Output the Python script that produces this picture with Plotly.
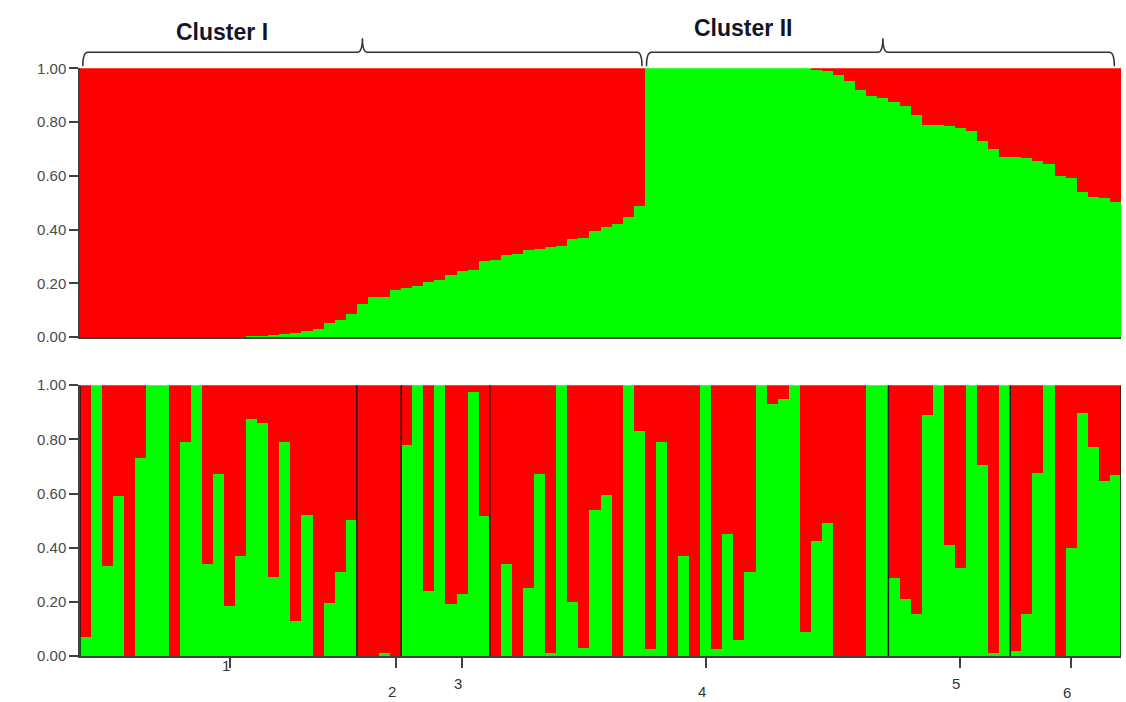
import plotly.graph_objects as go

W, H = 1126, 702

# ---------------- data ----------------
# Top panel: membership in the "green" cluster, individuals sorted
cluster_labels = ["Cluster I", "Cluster II"]
cluster1_green = [0.0, 0.0, 0.0, 0.0, 0.0, 0.0, 0.0, 0.0, 0.0, 0.0, 0.0, 0.0, 0.0, 0.0, 0.0,
                  0.004, 0.005, 0.007, 0.010, 0.013, 0.022, 0.031, 0.052, 0.064, 0.084,
                  0.124, 0.148, 0.150, 0.174, 0.183, 0.190, 0.205, 0.210, 0.229, 0.245,
                  0.250, 0.283, 0.287, 0.305, 0.310, 0.323, 0.327, 0.335, 0.338, 0.364,
                  0.368, 0.394, 0.409, 0.420, 0.446, 0.486]
cluster2_green = [1.0, 1.0, 1.0, 1.0, 1.0, 1.0, 1.0, 1.0, 1.0, 1.0, 1.0, 1.0, 1.0, 1.0, 1.0,
                  0.996, 0.990, 0.975, 0.950, 0.920, 0.895, 0.890, 0.874, 0.857, 0.827,
                  0.789, 0.787, 0.785, 0.776, 0.765, 0.730, 0.700, 0.670, 0.668, 0.665,
                  0.655, 0.643, 0.600, 0.590, 0.540, 0.520, 0.515, 0.502]

# Bottom panel: individuals grouped by population
pop_labels = ["1", "2", "3", "4", "5", "6"]
pop1_green = [0.07, 1.0, 0.33, 0.59, 0.0, 0.73, 1.0, 1.0, 0.0, 0.79, 1.0, 0.34, 0.67,
              0.185, 0.37, 0.873, 0.86, 0.29, 0.79, 0.13, 0.52, 0.0, 0.196, 0.31, 0.50]
pop2_green = [0.0, 0.0, 0.01, 0.0]
pop3_green = [0.777, 1.0, 0.24, 1.0, 0.19, 0.23, 0.975, 0.517]
pop4_green = [0.0, 0.34, 0.0, 0.25, 0.67, 0.01, 1.0, 0.20, 0.03, 0.54, 0.595, 0.0,
              1.0, 0.83, 0.025, 0.79, 0.0, 0.37, 0.0, 1.0, 0.025, 0.45, 0.06, 0.31,
              1.0, 0.93, 0.95, 1.0, 0.09, 0.425, 0.49, 0.0, 0.0, 0.0, 1.0, 1.0]
pop5_green = [0.286, 0.21, 0.154, 0.89, 1.0, 0.41, 0.326, 1.0, 0.706, 0.012, 1.0]
pop6_green = [0.017, 0.154, 0.674, 1.0, 0.0, 0.40, 0.895, 0.77, 0.647, 0.667]
pop_tick_index = [13, 28, 34, 56, 79, 89]

y_tick_vals = [0.0, 0.2, 0.4, 0.6, 0.8, 1.0]
y_tick_text = ["0.00", "0.20", "0.40", "0.60", "0.80", "1.00"]

GREEN = "#00FF00"
RED = "#FF0000"
AXC = "#404040"

# ---------------- build ----------------
top_green = cluster1_green + cluster2_green
top_x = list(range(len(top_green)))
pops = [pop1_green, pop2_green, pop3_green, pop4_green, pop5_green, pop6_green]
bot_green = [v for p in pops for v in p]
bot_x = list(range(len(bot_green)))
n = len(top_green)

# screen-pixel -> paper helpers (vertical calibrated to the rendering page)
VOFF, VSC = 8.62, 0.9762

def px_x(p):
    return p / W

def px_y(p):
    q = (p - VOFF) / VSC
    return 1 - q / H

xdom = [px_x(80), px_x(1121)]
top_dom = [px_y(337), px_y(68)]
bot_dom = [px_y(656), px_y(385)]

fig = go.Figure()
for xs, g, xa, ya in [(top_x, top_green, "x", "y"), (bot_x, bot_green, "x2", "y2")]:
    fig.add_trace(go.Bar(x=xs, y=g, marker=dict(color=GREEN, line=dict(width=0)),
                         xaxis=xa, yaxis=ya, showlegend=False, hoverinfo="skip"))
    fig.add_trace(go.Bar(x=xs, y=[1 - v for v in g], marker=dict(color=RED, line=dict(width=0)),
                         xaxis=xa, yaxis=ya, showlegend=False, hoverinfo="skip"))

yax = dict(range=[0, 1], tickvals=y_tick_vals, ticktext=y_tick_text, ticks="outside",
           ticklen=9, tickwidth=1.5, tickcolor=AXC, showline=True, linecolor=AXC,
           linewidth=1.5, showgrid=False, zeroline=False,
           tickfont=dict(family="Liberation Sans, Arial", size=15, color="#4a4a4a"))
fig.update_layout(
    width=W, height=H, margin=dict(l=0, r=0, t=0, b=0),
    paper_bgcolor="white", plot_bgcolor="white",
    barmode="stack", bargap=0,
    xaxis=dict(domain=xdom, range=[-0.5, n - 0.5], showticklabels=False, ticks="",
               showline=True, linecolor=AXC, linewidth=1.5, showgrid=False, zeroline=False,
               anchor="y"),
    yaxis=dict(domain=top_dom, anchor="x", **yax),
    xaxis2=dict(domain=xdom, range=[-0.5, n - 0.5], tickvals=pop_tick_index,
                ticktext=["" for _ in pop_tick_index], ticks="outside", ticklen=10,
                tickwidth=1.5, tickcolor=AXC, showline=True, linecolor=AXC, linewidth=1.5,
                showgrid=False, zeroline=False, anchor="y2"),
    yaxis2=dict(domain=bot_dom, anchor="x2", **yax),
)

# population divider lines
shapes = []
edge = -0.5
bounds = [edge]
for p in pops:
    edge += len(p)
    bounds.append(edge)
for b in bounds:
    shapes.append(dict(type="line", xref="x2", yref="y2", x0=b, x1=b, y0=0, y1=1,
                       line=dict(color="#1a1a1a", width=1.5)))

# cluster brackets
yh = px_y(52)
ye = px_y(66)
yp = px_y(38)
c_start = -0.5
sizes = [len(cluster1_green), len(cluster2_green)]
for i, s in enumerate(sizes):
    x0 = c_start + (0.25 if i == 0 else 0.15)
    x1 = c_start + s - (0.25 if i == 0 else 0.6)
    xc = c_start + s / 2
    d = 0.45
    path = (f"M {x0},{ye} Q {x0},{yh} {x0 + d},{yh} L {xc - d},{yh} "
            f"Q {xc},{yh} {xc},{yp} Q {xc},{yh} {xc + d},{yh} L {x1 - d},{yh} "
            f"Q {x1},{yh} {x1},{ye}")
    shapes.append(dict(type="path", xref="x", yref="paper", path=path,
                       line=dict(color="#333333", width=1.5)))
    c_start += s
fig.update_layout(shapes=shapes)

annotations = []
cl_px = [(222, 32), (743, 28)]
for lab, (cx, cy) in zip(cluster_labels, cl_px):
    annotations.append(dict(text=f"<b>{lab}</b>", xref="paper", yref="paper",
                            x=px_x(cx), y=px_y(cy), showarrow=False, xanchor="center",
                            yanchor="middle",
                            font=dict(family="Liberation Sans Narrow, Arial Narrow, Liberation Sans",
                                      size=23, color="#141428")))
label_y_px = [665, 691, 683, 691, 683, 692]
for lab, tx, ly in zip(pop_labels, pop_tick_index, label_y_px):
    annotations.append(dict(text=lab, xref="x2", yref="paper", x=tx, y=px_y(ly),
                            xshift=-4, showarrow=False, xanchor="center", yanchor="middle",
                            font=dict(family="Liberation Sans, Arial", size=15, color="#333333")))
fig.update_layout(annotations=annotations)

fig.write_html("out.html")
